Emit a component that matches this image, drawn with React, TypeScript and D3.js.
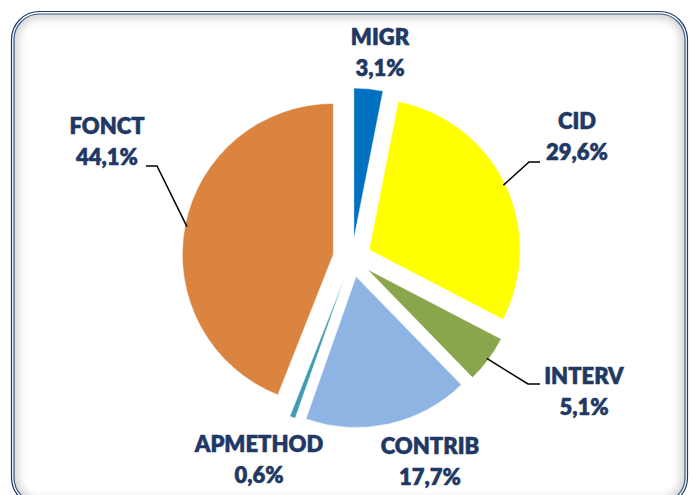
import React from "react";
import * as d3 from "d3";

const categories = ["MIGR", "CID", "INTERV", "CONTRIB", "APMETHOD", "FONCT"];
const values = [3.1, 29.6, 5.1, 17.7, 0.6, 44.1];
const valueLabels = ["3,1%", "29,6%", "5,1%", "17,7%", "0,6%", "44,1%"];
const colors = ["#0070C0", "#FFFF00", "#8BA54D", "#8EB4E3", "#3F9AB3", "#DB8440"];

// label layout: center x, first baseline, leader elbow & end near text (null = no leader)
const labelLayout = [
  { x: 380, y: 45, leader: null },
  { x: 577, y: 129, leader: [[529, 162], [540, 162]] },
  { x: 584, y: 384, leader: [[528, 384], [540, 384]] },
  { x: 430, y: 454, leader: null },
  { x: 259, y: 452, leader: null },
  { x: 107, y: 134, leader: [[157, 166], [146, 166]] },
];

const W = 693;
const H = 495;
const cx = 352;
const cy = 258;
const R = 151;
const explode = 19;
const textColor = "#1F3864";

export default function App() {
  const pie = d3
    .pie<number>()
    .sort(null)
    .value((d) => d)
    .startAngle(0)
    .endAngle(2 * Math.PI);
  const arcs = pie(values);
  const arc = d3.arc<d3.PieArcDatum<number>>().innerRadius(0).outerRadius(R);

  const fx = 11.5, fy = 11.5, fw = 676, fh = 494, fr = 28;

  return (
    <svg
      width={W}
      height={H}
      style={{ position: "absolute", left: 0, top: 0, background: "#fff" }}
    >
      <defs>
        <clipPath id="inner">
          <rect x={fx + 2} y={fy + 2} width={fw - 4} height={fh - 4} rx={fr - 2} />
        </clipPath>
        <filter id="blur" x="-10%" y="-10%" width="120%" height="120%">
          <feGaussianBlur stdDeviation="4" />
        </filter>
      </defs>
      <rect x={0} y={0} width={W} height={H} fill="#fff" />
      <g clipPath="url(#inner)">
        <rect
          x={fx + 2}
          y={fy + 2}
          width={fw - 4}
          height={fh - 4}
          rx={fr - 2}
          fill="none"
          stroke="#000"
          strokeOpacity={0.22}
          strokeWidth={8}
          filter="url(#blur)"
        />
      </g>
      <rect x={fx} y={fy} width={fw} height={fh} rx={fr} fill="none" stroke="#1F3864" strokeWidth={1.2} />
      <rect x={fx + 2.5} y={fy + 2.5} width={fw - 5} height={fh - 5} rx={fr - 2.5} fill="none" stroke="#3A5C8E" strokeWidth={1.2} />

      <g transform={`translate(${cx},${cy})`}>
        {arcs.map((a, i) => {
          const mid = (a.startAngle + a.endAngle) / 2;
          const dx = explode * Math.sin(mid);
          const dy = -explode * Math.cos(mid);
          return (
            <path
              key={categories[i]}
              d={arc(a) || ""}
              transform={`translate(${dx},${dy})`}
              fill={colors[i]}
              stroke="#fff"
              strokeWidth={0.5}
            />
          );
        })}
      </g>

      {arcs.map((a, i) => {
        const lay = labelLayout[i];
        if (!lay.leader) return null;
        const mid = (a.startAngle + a.endAngle) / 2;
        const rr = R + explode - 2;
        const px = cx + rr * Math.sin(mid);
        const py = cy - rr * Math.cos(mid);
        const pts = [[px, py], ...lay.leader];
        return (
          <polyline
            key={"l" + i}
            points={pts.map((p) => p.join(",")).join(" ")}
            fill="none"
            stroke="#000"
            strokeWidth={1.5}
          />
        );
      })}

      {categories.map((c, i) => {
        const lay = labelLayout[i];
        return (
          <g
            key={"t" + c}
            fontFamily="Lato, 'Open Sans', sans-serif"
            fontWeight={800}
            fontSize={22}
            fill={textColor}
            stroke={textColor}
            strokeWidth={0.5}
            textAnchor="middle"
          >
            <text x={lay.x} y={lay.y}>{c}</text>
            <text x={lay.x} y={lay.y + 31}>{valueLabels[i]}</text>
          </g>
        );
      })}
    </svg>
  );
}
